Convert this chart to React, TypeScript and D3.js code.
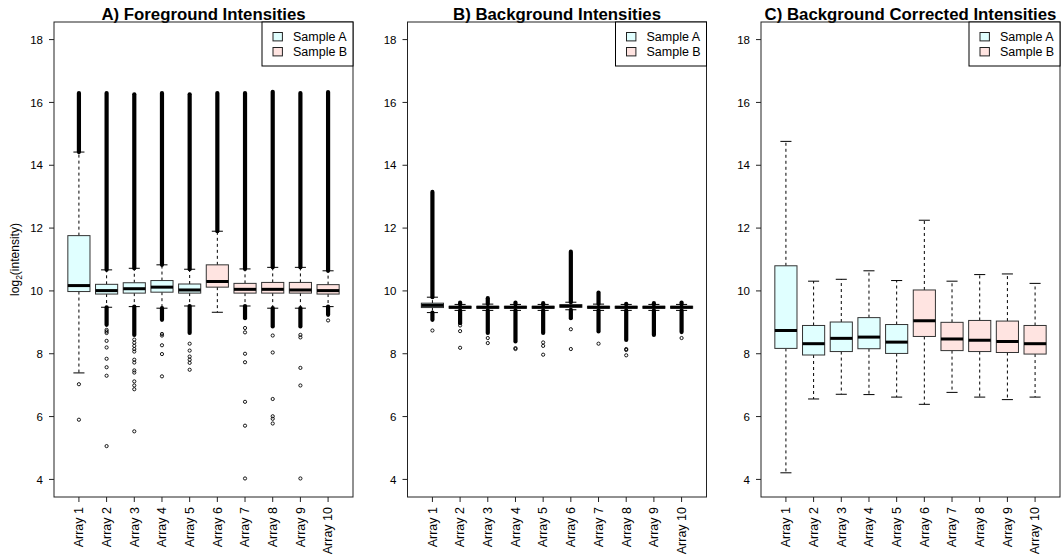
import React from "react";
import * as d3 from "d3";

const arrays = ["Array 1", "Array 2", "Array 3", "Array 4", "Array 5", "Array 6", "Array 7", "Array 8", "Array 9", "Array 10"];
const sampleOf = ["A", "A", "A", "A", "A", "B", "B", "B", "B", "B"];
const legendLabels = ["Sample A", "Sample B"];
const titles = ["A) Foreground Intensities", "B) Background Intensities", "C) Background Corrected Intensities"];
const yTicks = [4, 6, 8, 10, 12, 14, 16, 18];

// Panel A: foreground
const fgQ1 = [9.98, 9.9, 9.93, 9.96, 9.93, 10.12, 9.93, 9.93, 9.93, 9.9];
const fgMed = [10.17, 10.01, 10.07, 10.12, 10.03, 10.3, 10.05, 10.05, 10.03, 10.01];
const fgQ3 = [11.76, 10.21, 10.26, 10.33, 10.22, 10.83, 10.24, 10.27, 10.27, 10.2];
const fgLo = [7.39, 9.48, 9.5, 9.45, 9.52, 9.32, 9.52, 9.45, 9.45, 9.5];
const fgHi = [14.42, 10.67, 10.72, 10.83, 10.69, 11.9, 10.7, 10.75, 10.75, 10.64];
const fgDense: number[][][] = [
  [[14.42, 16.3]],
  [[10.67, 16.3], [8.92, 9.48]],
  [[10.72, 16.26], [8.6, 9.5]],
  [[10.83, 16.3], [9.08, 9.45]],
  [[10.69, 16.26], [8.66, 9.52]],
  [[11.9, 16.3]],
  [[10.7, 16.3], [9.13, 9.52]],
  [[10.75, 16.34], [8.87, 9.45]],
  [[10.75, 16.3], [8.87, 9.45]],
  [[10.64, 16.33], [9.24, 9.5]],
];
const fgOut: number[][] = [
  [7.03, 5.9],
  [8.76, 8.71, 8.66, 8.41, 8.2, 7.84, 7.57, 7.3, 5.06],
  [8.45, 8.35, 8.25, 8.15, 8.07, 7.81, 7.72, 7.47, 7.4, 7.12, 6.99, 6.87, 5.53],
  [8.63, 8.58, 8.27, 7.99, 7.28],
  [8.32, 8.1, 7.91, 7.81, 7.71, 7.49],
  [],
  [8.82, 8.68, 8.0, 7.73, 6.47, 5.71, 4.03],
  [8.58, 8.04, 6.56, 6.01, 5.93, 5.78],
  [8.6, 8.52, 7.55, 6.99, 4.03],
  [9.06],
];

// Panel B: background
const bgQ1 = [9.47, 9.45, 9.45, 9.45, 9.45, 9.48, 9.45, 9.45, 9.45, 9.45];
const bgMed = [9.54, 9.48, 9.48, 9.48, 9.48, 9.52, 9.48, 9.48, 9.48, 9.48];
const bgQ3 = [9.61, 9.51, 9.51, 9.51, 9.51, 9.56, 9.51, 9.51, 9.51, 9.51];
const bgLo = [9.31, 9.38, 9.38, 9.38, 9.38, 9.4, 9.38, 9.38, 9.38, 9.38];
const bgHi = [9.8, 9.57, 9.58, 9.57, 9.57, 9.64, 9.58, 9.57, 9.57, 9.57];
const bgDense: number[][][] = [
  [[9.8, 13.15], [9.08, 9.31]],
  [[9.57, 9.63], [8.97, 9.38]],
  [[9.58, 9.77], [8.66, 9.38]],
  [[9.57, 9.63], [8.39, 9.38]],
  [[9.57, 9.61], [8.66, 9.38]],
  [[9.64, 11.25], [9.13, 9.4]],
  [[9.58, 9.95], [8.71, 9.38]],
  [[9.57, 9.59], [8.44, 9.38]],
  [[9.57, 9.61], [8.6, 9.38]],
  [[9.57, 9.63], [8.69, 9.38]],
];
const bgOut: number[][] = [
  [8.74],
  [8.9, 8.72, 8.19],
  [8.5, 8.34],
  [8.18, 8.15],
  [8.36, 8.25, 7.97],
  [8.78, 8.15],
  [8.32],
  [8.15, 8.12, 7.95],
  [],
  [8.5],
];

// Panel C: background corrected
const bcQ1 = [8.17, 7.96, 8.07, 8.16, 8.01, 8.55, 8.1, 8.07, 8.04, 7.99];
const bcMed = [8.74, 8.32, 8.49, 8.53, 8.37, 9.05, 8.47, 8.43, 8.39, 8.32];
const bcQ3 = [10.8, 8.9, 9.01, 9.15, 8.93, 10.03, 9.0, 9.06, 9.04, 8.9];
const bcLo = [4.21, 6.56, 6.71, 6.7, 6.62, 6.39, 6.77, 6.62, 6.54, 6.62];
const bcHi = [14.76, 10.31, 10.37, 10.64, 10.33, 12.25, 10.31, 10.52, 10.54, 10.24];
const bcDense: number[][][] = [[], [], [], [], [], [], [], [], [], []];
const bcOut: number[][] = [[], [], [], [], [], [], [], [], [], []];

const fills: Record<string, string> = { A: "#E0FFFF", B: "#FFE4E1" };
const FONT = "Liberation Sans, Arial, Helvetica, sans-serif";

type PanelData = {
  q1: number[]; med: number[]; q3: number[]; lo: number[]; hi: number[];
  dense: number[][][]; out: number[][];
};

const panels: PanelData[] = [
  { q1: fgQ1, med: fgMed, q3: fgQ3, lo: fgLo, hi: fgHi, dense: fgDense, out: fgOut },
  { q1: bgQ1, med: bgMed, q3: bgQ3, lo: bgLo, hi: bgHi, dense: bgDense, out: bgOut },
  { q1: bcQ1, med: bcMed, q3: bcQ3, lo: bcLo, hi: bcHi, dense: bcDense, out: bcOut },
];

const PANEL_W = 353.5;
const PL = 54, PR = 353, PT = 22, PB = 497;

function Panel({ idx, data }: { idx: number; data: PanelData }) {
  const off = idx * PANEL_W;
  const left = off + PL, right = off + PR;
  const x = d3.scaleLinear().domain([0.1, 10.9]).range([left, right]);
  const y = d3.scaleLinear().domain([3.44, 18.56]).range([PB, PT]);
  const bw = x(0.8) - x(0);
  const sw = x(0.4) - x(0);
  return (
    <g>
      <text x={(left + right) / 2} y={19.5} textAnchor="middle" fontFamily={FONT} fontWeight="bold" fontSize={16.8} fill="#000">
        {titles[idx]}
      </text>
      {arrays.map((name, i) => {
        const cx = x(i + 1);
        return (
          <g key={name}>
            <line x1={cx} x2={cx} y1={y(data.q3[i])} y2={y(data.hi[i])} stroke="#000" strokeWidth={1} strokeDasharray="3,3" />
            <line x1={cx} x2={cx} y1={y(data.q1[i])} y2={y(data.lo[i])} stroke="#000" strokeWidth={1} strokeDasharray="3,3" />
            <line x1={cx - sw / 2} x2={cx + sw / 2} y1={y(data.hi[i])} y2={y(data.hi[i])} stroke="#000" strokeWidth={1} />
            <line x1={cx - sw / 2} x2={cx + sw / 2} y1={y(data.lo[i])} y2={y(data.lo[i])} stroke="#000" strokeWidth={1} />
            <rect x={cx - bw / 2} y={y(data.q3[i])} width={bw} height={Math.max(0.5, y(data.q1[i]) - y(data.q3[i]))}
              fill={fills[sampleOf[i]]} stroke="#333" strokeWidth={1} />
            <line x1={cx - bw / 2} x2={cx + bw / 2} y1={y(data.med[i])} y2={y(data.med[i])} stroke="#000" strokeWidth={3} />
            {data.dense[i].map((r, k) => (
              <line key={"d" + k} x1={cx} x2={cx} y1={y(r[0])} y2={y(r[1])} stroke="#000" strokeWidth={4.2} strokeLinecap="round" />
            ))}
            {data.out[i].map((v, k) => (
              <circle key={"o" + k} cx={cx} cy={y(v)} r={1.6} fill="none" stroke="#000" strokeWidth={0.9} />
            ))}
          </g>
        );
      })}
      <rect x={left} y={PT} width={right - left} height={PB - PT} fill="none" stroke="#222" strokeWidth={1} />
      {yTicks.map((t) => (
        <g key={t}>
          <line x1={left - 5} x2={left} y1={y(t)} y2={y(t)} stroke="#222" strokeWidth={1} />
          <text x={left - 11} y={y(t)} dy="0.36em" textAnchor="end" fontFamily={FONT} fontSize={11.5} fill="#000">{t}</text>
        </g>
      ))}
      {arrays.map((name, i) => {
        const cx = x(i + 1);
        return (
          <g key={"xt" + name}>
            <line x1={cx} x2={cx} y1={PB} y2={PB + 5} stroke="#222" strokeWidth={1} />
            <text transform={`translate(${cx + 4.3},${507}) rotate(-90)`} textAnchor="end" fontFamily={FONT} fontSize={12.5} fill="#000">{name}</text>
          </g>
        );
      })}
      <g>
        <rect x={right - 91} y={PT} width={91} height={44} fill="#fff" stroke="#000" strokeWidth={1} />
        {legendLabels.map((lab, k) => (
          <g key={lab}>
            <rect x={right - 80} y={PT + 10.5 + k * 15} width={9.4} height={8.4} fill={fills[k === 0 ? "A" : "B"]} stroke="#222" strokeWidth={1} />
            <text x={right - 60} y={PT + 19.3 + k * 15} fontFamily={FONT} fontSize={12.5} fill="#000">{lab}</text>
          </g>
        ))}
      </g>
      {idx === 0 && (
        <text transform={`translate(19,${(PT + PB) / 2}) rotate(-90)`} textAnchor="middle" fontFamily={FONT} fontSize={12} fill="#000">
          log<tspan fontSize={8.5} dy="3">2</tspan><tspan dy="-3">(intensity)</tspan>
        </text>
      )}
    </g>
  );
}

export default function App() {
  return (
    <svg width={1062} height={556} style={{ position: "absolute", left: 0, top: 0, background: "#fff" }}>
      <rect x={0} y={0} width={1062} height={556} fill="#fff" />
      {panels.map((p, i) => (
        <Panel key={i} idx={i} data={p} />
      ))}
    </svg>
  );
}
